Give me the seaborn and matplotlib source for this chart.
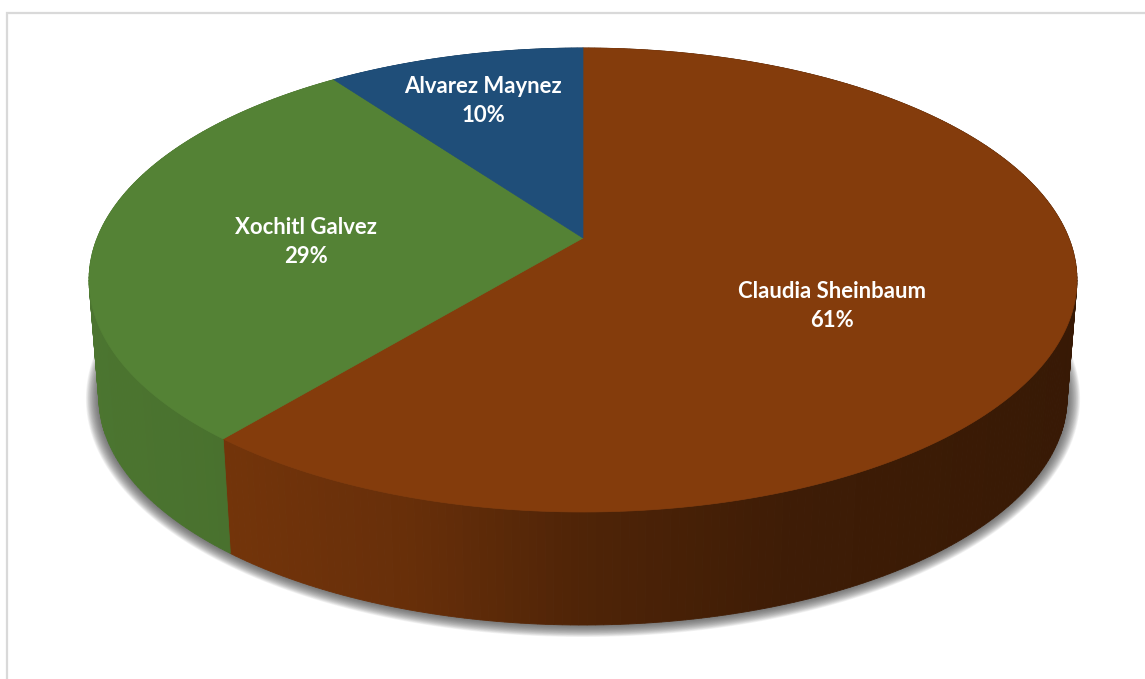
# Import Libraries
import numpy as np
import matplotlib
matplotlib.use('Agg')
import matplotlib.pyplot as plt
import seaborn as sns

# Chart values, clockwise from 12 o'clock
candidates = ['Claudia Sheinbaum', 'Xochitl Galvez', 'Alvarez Maynez']
shares = [61, 29, 10]

palette = sns.color_palette(['#843c0c', '#548235', '#1f4e79'])

sns.set_theme(style='white')
plt.rcParams['font.family'] = ['Lato', 'DejaVu Sans']

# Pixel layout of the fake 3D pie
apex_x, apex_y = 583, 238
width_x, width_y = 485.8, 224.4
tilt = 0.181
drop = 118.5
shrink = 0.98
label_pos = [(832, 306), (306, 242), (483, 101)]

# Side wall gets darker from left to right
shade_x = [99, 236, 420, 583, 790, 1067]
shade_f = [0.90, 0.87, 0.78, 0.60, 0.47, 0.42]


def rim(angle):
    # perspective projection of a circle, angle is clockwise from the back
    u, v = np.sin(angle), np.cos(angle)
    d = 1 + tilt * v
    return apex_x + width_x * u / d, apex_y - width_y * v / d


def lower(x, y):
    return apex_x + shrink * (x - apex_x), apex_y + drop + shrink * (y - apex_y)


fig = plt.figure(figsize=(11.45, 6.79), dpi=100)
ax = fig.add_axes([0, 0, 1, 1])
ax.set_xlim(0, 1145)
ax.set_ylim(679, 0)
ax.axis('off')

# Chart frame, only top and left are inside the crop
ax.plot([6.5, 6.5, 1145], [679, 12.5, 12.5], color='#d9d9d9', lw=1.6, solid_joinstyle='miter')

# Soft shadow under the pie, stacked from wide to narrow
all_angles = np.linspace(0, 2 * np.pi, 360)
bx, by = lower(*rim(all_angles))
for grow in np.linspace(13, 0, 20):
    sx = apex_x + (bx - apex_x) * (1 + grow / 484)
    sy = by.mean() + (by - by.mean()) * (1 + grow / 270)
    ax.fill(sx, sy, color='#505050', alpha=0.065, lw=0)

# Walls then top of each slice
edges = np.cumsum([0] + shares) / sum(shares) * 2 * np.pi
for start, end, color in zip(edges[:-1], edges[1:], palette):
    a = np.linspace(start, end, int((end - start) * 70) + 2)
    tx, ty = rim(a)
    lx, ly = lower(tx, ty)
    for i in range(len(a) - 1):
        f = np.interp(lx[i], shade_x, shade_f)
        c = tuple(np.array(color) * f)
        ax.fill([tx[i], tx[i + 1], lx[i + 1], lx[i]], [ty[i], ty[i + 1], ly[i + 1], ly[i]],
                color=c, ec=c, lw=0.6)

for start, end, color in zip(edges[:-1], edges[1:], palette):
    a = np.linspace(start, end, 200)
    tx, ty = rim(a)
    ax.fill(np.r_[apex_x, tx], np.r_[apex_y, ty], color=color, ec=color, lw=0.5)

# Labels
for name, share, (x, y) in zip(candidates, shares, label_pos):
    ax.text(x, y, f'{name}\n{share}%', color='white', fontsize=15.9, fontweight='bold',
            ha='center', va='center', linespacing=1.45)

fig.savefig('out.png', dpi=100)
